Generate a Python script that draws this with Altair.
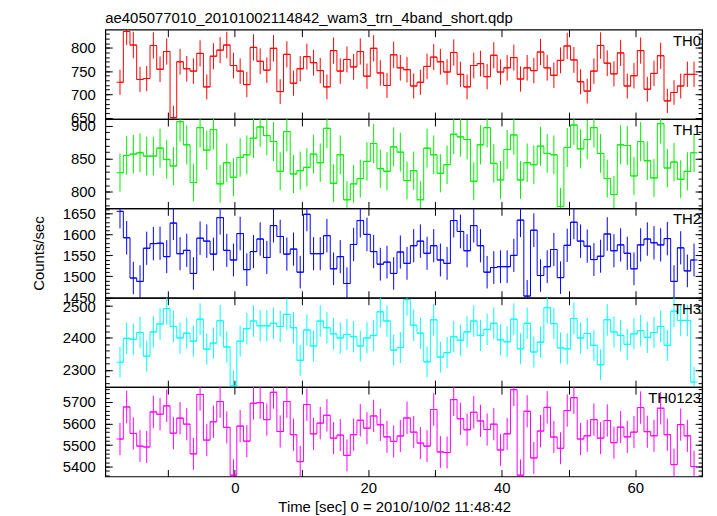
import altair as alt
import numpy as np
import pandas as pd

TITLE = "ae405077010_20101002114842_wam3_trn_4band_short.qdp"
X_TITLE = "Time [sec] 0 = 2010/10/02 11:48:42"
Y_TITLE = "Counts/sec"
T_START = -17.2
BIN_WIDTH = 1.0
X_DOMAIN = [-19.4, 70.0]
X_TICKS = [-10, 0, 10, 20, 30, 40, 50, 60, 70]

BANDS = ["TH0", "TH1", "TH2", "TH3", "TH0123"]
COLORS = ["#ff0000", "#00ee00", "#0000ff", "#00ffff", "#ff00ff"]

TH0 = [726, 835, 806, 732, 734, 805, 754, 792, 650, 770,
       755, 750, 788, 716, 782, 795, 806, 762, 750, 721,
       801, 771, 752, 799, 706, 786, 724, 755, 781, 768,
       751, 716, 794, 750, 775, 759, 792, 739, 799, 746,
       719, 785, 757, 753, 718, 726, 760, 780, 770, 748,
       790, 743, 716, 762, 766, 738, 784, 748, 757, 779,
       733, 757, 751, 791, 757, 741, 773, 804, 774, 727,
       707, 750, 805, 767, 744, 789, 718, 740, 794, 711,
       745, 783, 686, 704, 718, 743, 743]
TH1 = [829, 855, 857, 859, 854, 854, 866, 849, 839, 906,
       871, 814, 897, 863, 894, 812, 844, 822, 852, 856,
       881, 898, 885, 876, 831, 891, 827, 832, 837, 857,
       844, 896, 813, 856, 788, 812, 820, 846, 873, 835,
       831, 868, 860, 817, 832, 788, 866, 856, 828, 841,
       887, 883, 879, 816, 871, 897, 843, 818, 864, 886,
       818, 844, 841, 869, 858, 856, 778, 867, 901, 865,
       879, 897, 858, 820, 796, 871, 870, 824, 876, 847,
       821, 903, 836, 845, 819, 831, 859]
TH2 = [1655, 1592, 1496, 1488, 1567, 1578, 1579, 1547, 1627, 1554,
       1562, 1507, 1591, 1584, 1553, 1640, 1562, 1539, 1602, 1516,
       1559, 1589, 1545, 1621, 1595, 1553, 1565, 1510, 1648, 1554,
       1554, 1597, 1518, 1547, 1483, 1576, 1633, 1600, 1559, 1529,
       1534, 1507, 1558, 1531, 1573, 1584, 1555, 1573, 1539, 1531,
       1633, 1607, 1561, 1621, 1573, 1510, 1521, 1523, 1523, 1550,
       1634, 1453, 1610, 1502, 1523, 1564, 1497, 1574, 1629, 1584,
       1572, 1540, 1548, 1601, 1561, 1575, 1555, 1518, 1575, 1589,
       1580, 1575, 1590, 1488, 1568, 1513, 1539]
TH3 = [2324, 2399, 2396, 2417, 2343, 2419, 2444, 2492, 2436, 2400,
       2415, 2390, 2459, 2365, 2384, 2454, 2372, 2250, 2390, 2429,
       2453, 2438, 2438, 2446, 2436, 2474, 2432, 2330, 2425, 2375,
       2453, 2432, 2413, 2400, 2411, 2404, 2375, 2400, 2408, 2482,
       2453, 2362, 2370, 2520, 2440, 2415, 2325, 2457, 2340, 2354,
       2404, 2393, 2419, 2453, 2408, 2427, 2446, 2394, 2388, 2459,
       2366, 2446, 2356, 2387, 2495, 2445, 2369, 2366, 2461, 2400,
       2414, 2377, 2316, 2457, 2419, 2408, 2380, 2413, 2423, 2402,
       2417, 2436, 2377, 2484, 2455, 2455, 2262]
TH0123 = [5528, 5677, 5554, 5495, 5491, 5654, 5643, 5682, 5555, 5625,
          5597, 5459, 5735, 5523, 5608, 5702, 5582, 5360, 5588, 5518,
          5694, 5697, 5618, 5745, 5563, 5702, 5548, 5423, 5688, 5552,
          5602, 5638, 5532, 5546, 5452, 5548, 5615, 5578, 5635, 5594,
          5538, 5517, 5542, 5626, 5560, 5509, 5495, 5665, 5468, 5465,
          5711, 5622, 5571, 5652, 5612, 5572, 5597, 5477, 5552, 5757,
          5360, 5657, 5440, 5565, 5675, 5537, 5485, 5660, 5720, 5528,
          5543, 5618, 5532, 5614, 5511, 5583, 5538, 5560, 5674, 5562,
          5543, 5671, 5548, 5409, 5595, 5543, 5400]
SERIES = [TH0, TH1, TH2, TH3, TH0123]

Y_DOMAINS = [[647, 839], [775, 910], [1449, 1662], [2246, 2526], [5354, 5769]]
Y_MAJOR = [[650, 700, 750, 800], [800, 850, 900],
           [1450, 1500, 1550, 1600, 1650], [2300, 2400, 2500],
           [5400, 5500, 5600, 5700]]
Y_MINOR_STEP = [10, 10, 10, 20, 20]

W = 601
H = 90
FONT = "Liberation Sans"


def panel(i):
    vals = np.array(SERIES[i], dtype=float)
    n = len(vals)
    t = T_START + BIN_WIDTH * np.arange(n)
    err = np.sqrt(vals)
    df = pd.DataFrame({"t": t, "t0": t - BIN_WIDTH / 2, "t1": t + BIN_WIDTH / 2,
                       "v": vals, "lo": vals - err, "hi": vals + err})
    color = COLORS[i]
    last = i == len(BANDS) - 1
    mid = i == 2
    d0, d1 = Y_DOMAINS[i]
    step = Y_MINOR_STEP[i]
    minor = [float(x) for x in np.arange(np.ceil(d0 / step) * step, d1 + 0.01, step)]

    xs = alt.Scale(domain=X_DOMAIN, nice=False, zero=False)
    ys = alt.Scale(domain=Y_DOMAINS[i], nice=False, zero=False)

    xb_kw = dict(orient="bottom", values=X_TICKS, offset=-7, tickSize=7,
                 domain=False, grid=False, tickColor="black")
    if last:
        xb_kw.update(labels=True, labelPadding=4, labelFontSize=15,
                     labelExpr="datum.value % 20 == 0 ? datum.label : ''",
                     labelFlush=False, title=X_TITLE, titleX=291, titleY=30,
                     titleFontSize=15, titleFontWeight="normal", titleFont=FONT,
                     titleColor="black")
    else:
        xb_kw.update(labels=False, title=None)
    yl_kw = dict(orient="left", values=Y_MAJOR[i], offset=-7, tickSize=7,
                 domain=False, grid=False, labelPadding=10, labelFontSize=15,
                 tickColor="black", labelOverlap=False, format="d")
    if mid:
        yl_kw.update(title=Y_TITLE, titleX=-66, titleY=H / 2, titleFontSize=15,
                     titleFontWeight="normal", titleFont=FONT, titleColor="black")
    else:
        yl_kw.update(title=None)

    line = alt.Chart(df).mark_line(interpolate="step", color=color, strokeWidth=1,
                                   clip=True).encode(
        x=alt.X("t:Q", scale=xs, axis=alt.Axis(**xb_kw)),
        y=alt.Y("v:Q", scale=ys, axis=alt.Axis(**yl_kw)),
    )
    errbar = alt.Chart(df).mark_rule(color=color, strokeWidth=1, clip=True).encode(
        x=alt.X("t:Q", scale=xs, axis=alt.Axis(orient="top", values=X_TICKS, offset=-7,
                                               tickSize=7, labels=False, domain=False,
                                               grid=False, title=None, tickColor="black")),
        y=alt.Y("lo:Q", scale=ys, axis=alt.Axis(orient="left", values=minor, offset=-4,
                                                tickSize=4, labels=False, domain=False,
                                                grid=False, title=None, tickColor="black")),
        y2="hi:Q",
    )
    xerr = alt.Chart(df).mark_rule(color=color, strokeWidth=1, clip=True).encode(
        x=alt.X("t0:Q", scale=xs, axis=None),
        x2="t1:Q",
        y=alt.Y("v:Q", scale=ys, axis=alt.Axis(orient="right", values=Y_MAJOR[i], offset=-7,
                                               tickSize=7, labels=False, domain=False,
                                               grid=False, title=None, tickColor="black")),
    )
    ghost = alt.Chart(df).mark_point(opacity=0, size=1).encode(
        x=alt.X("t:Q", scale=xs, axis=None),
        y=alt.Y("v:Q", scale=ys, axis=alt.Axis(orient="right", values=minor, offset=-4,
                                               tickSize=4, labels=False, domain=False,
                                               grid=False, title=None, tickColor="black")),
    )
    label = alt.Chart(pd.DataFrame({"band": [BANDS[i]]})).mark_text(
        align="right", baseline="top", fontSize=15, font=FONT, color="black"
    ).encode(text="band:N", x=alt.value(W - 1), y=alt.value(4))

    layer = alt.layer(errbar, xerr, line, ghost, label).resolve_axis(
        x="independent", y="independent")
    if i == 0:
        layer = layer.properties(
            width=W, height=H,
            title=alt.TitleParams(text=TITLE, anchor="start", frame="group",
                                  fontSize=15, fontWeight="normal", font=FONT,
                                  color="black", offset=3))
    else:
        layer = layer.properties(width=W, height=H)
    return layer


chart = alt.vconcat(*[panel(i) for i in range(len(BANDS))], spacing=0,
                    bounds="flush").properties(
    padding={"left": 23, "top": 0, "right": 5, "bottom": 2},
    background="white",
).configure_view(stroke="#000000", strokeWidth=1.2).configure_axis(
    labelFont=FONT, labelColor="black", titleFont=FONT
)

chart.save("out.html", embed_options={"renderer": "svg", "actions": False})
